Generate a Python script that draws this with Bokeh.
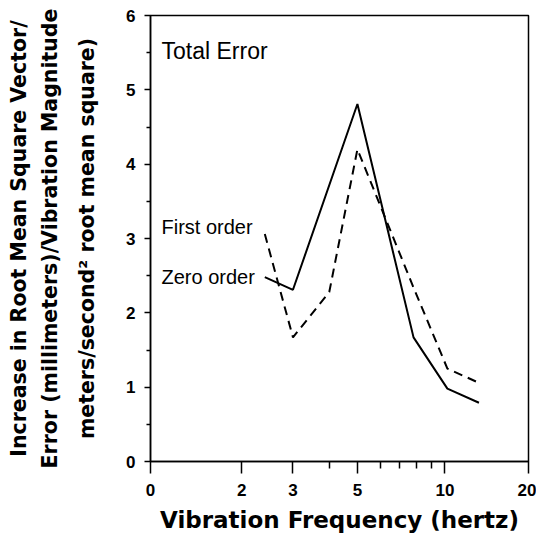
from bokeh.plotting import figure
from bokeh.models import FixedTicker, Label, Range1d, LinearAxis
from bokeh.embed import file_html
from bokeh.resources import INLINE

# Zero order (solid)
freq_zero = [2.4, 3.0, 5.0, 7.8, 10.2, 13.1]
err_zero = [2.48, 2.31, 4.81, 1.67, 0.98, 0.79]

# First order (dashed)
freq_first = [2.4, 3.0, 4.0, 5.0, 7.8, 10.2, 12.9]
err_first = [3.06, 1.67, 2.28, 4.20, 2.34, 1.25, 1.07]

x_tick_values = [0.97, 2, 3, 5, 10, 19.4]
x_tick_labels = ["0", "2", "3", "5", "10", "20"]
x_minor_values = [4, 6, 7, 8, 9]
y_tick_values = [0, 1, 2, 3, 4, 5, 6]
y_minor_values = [0.5, 1.5, 2.5, 3.5, 4.5, 5.5]

y_title_lines = [
    "Increase in Root Mean Square Vector/",
    "Error (millimeters)/Vibration Magnitude",
    "meters/second\u00b2 root mean square)",
]
x_title = "Vibration Frequency (hertz)"

p = figure(
    width=536, height=536,
    x_axis_type="log",
    x_range=Range1d(x_tick_values[0], x_tick_values[-1]),
    y_range=Range1d(y_tick_values[0], y_tick_values[-1]),
    output_backend="svg", toolbar_location=None,
    min_border_left=150, min_border_right=8, min_border_top=15, min_border_bottom=75,
)
p.background_fill_color = "white"
p.border_fill_color = "white"
p.outline_line_color = "black"
p.outline_line_width = 1.5
p.grid.visible = False

# x axis
xa = p.xaxis[0]
xa.ticker = FixedTicker(ticks=x_tick_values, minor_ticks=x_minor_values)
xa.major_label_overrides = {v: s for v, s in zip(x_tick_values, x_tick_labels)}
xa.major_tick_out = 12
xa.major_tick_in = 0
xa.minor_tick_out = 7
xa.minor_tick_in = 0
xa.major_label_standoff = 10
xa.axis_line_width = 1.5
xa.major_tick_line_width = 1.5
xa.minor_tick_line_width = 1.5
xa.major_label_text_font = "Liberation Sans"
xa.major_label_text_font_style = "bold"
xa.major_label_text_font_size = "17px"
xa.major_label_text_color = "black"
xa.axis_label = x_title
xa.axis_label_text_font = "DejaVu Sans"
xa.axis_label_text_font_style = "bold"
xa.axis_label_text_font_size = "23px"
xa.axis_label_text_color = "black"
xa.axis_label_standoff = 8

# y axis (carries the innermost title line)
ya = p.yaxis[0]
ya.ticker = FixedTicker(ticks=y_tick_values, minor_ticks=y_minor_values)
ya.major_tick_out = 6
ya.major_tick_in = 0
ya.minor_tick_out = 4
ya.minor_tick_in = 0
ya.major_label_standoff = 9
ya.axis_line_width = 1.5
ya.major_tick_line_width = 1.5
ya.minor_tick_line_width = 1.5
ya.major_label_text_font = "Liberation Sans"
ya.major_label_text_font_style = "bold"
ya.major_label_text_font_size = "17px"
ya.major_label_text_color = "black"
ya.axis_label = y_title_lines[2]
ya.axis_label_standoff = 24


def style_title(ax):
    ax.axis_label_text_font = "DejaVu Sans"
    ax.axis_label_text_font_style = "bold"
    ax.axis_label_text_font_size = "20.5px"
    ax.axis_label_text_color = "black"


style_title(ya)

# extra label-only axes for the outer title lines
for txt, standoff in [(y_title_lines[1], 11), (y_title_lines[0], 4)]:
    ax = LinearAxis(
        ticker=FixedTicker(ticks=[]), axis_label=txt, axis_label_standoff=standoff,
        axis_line_color=None, major_tick_line_color=None, minor_tick_line_color=None,
        major_tick_out=0, minor_tick_out=0, major_tick_in=0, minor_tick_in=0,
        major_label_standoff=0, major_label_text_font_size="0px",
    )
    style_title(ax)
    p.add_layout(ax, "left")

# series
p.line(freq_zero, err_zero, line_color="black", line_width=2)
p.line(freq_first, err_first, line_color="black", line_width=2, line_dash="9 6")

# annotations
for txt, ys, fs in [("Total Error", 411, "23px"), ("First order", 235, "20px"), ("Zero order", 185, "20px")]:
    p.add_layout(Label(
        x=11, y=ys, x_units="screen", y_units="screen", text=txt,
        text_align="left", text_baseline="middle",
        text_font="Liberation Sans", text_font_size=fs, text_color="black",
    ))

open("out.html", "w").write(file_html(p, INLINE))
